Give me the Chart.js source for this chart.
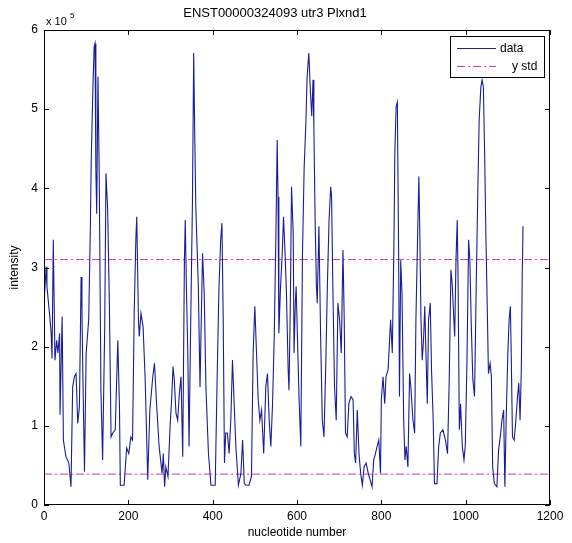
<!DOCTYPE html>
<html>
<head>
<meta charset="utf-8">
<script src="https://cdn.jsdelivr.net/npm/chart.js@4/dist/chart.umd.min.js"></script>
<style>html,body{margin:0;padding:0;background:#fff}</style>
</head>
<body>
<canvas id="chart" width="572" height="543"></canvas>
<script>
'use strict'

// ------------- data ------------- //
var nucleotide = [0,1,5,7,13,17,19,22,26,30,33,37,38,43,46,52,59,64,68,72,76,80,84,88,90,92,96,100,106,110,112,116,119,121,123,125,128,131,135,139,144,147,151,155,159,163,169,175,179,181,190,196,201,206,210,214,218,220,224,226,230,235,240,246,251,258,262,267,273,280,283,286,289,294,299,303,306,309,313,317,321,325,329,333,335,338,341,344,348,352,355,357,360,366,370,376,380,384,390,396,406,411,415,419,422,425,428,431,435,439,443,447,451,455,461,467,471,475,479,486,492,496,500,504,508,512,516,521,526,530,534,538,542,546,550,553,555,557,561,565,568,572,575,579,581,584,587,591,593,596,598,602,605,609,613,617,621,624,628,632,635,638,640,643,646,648,652,656,660,664,668,672,676,680,682,685,689,693,697,701,705,709,712,715,719,723,728,733,736,739,743,747,751,755,759,764,769,778,782,786,790,794,798,800,804,808,811,816,822,826,830,832,835,838,841,843,846,849,853,856,859,863,867,870,875,879,882,886,889,891,894,897,900,903,906,909,912,916,919,923,926,932,936,940,946,952,957,961,965,968,972,974,977,980,982,985,988,992,996,999,1003,1007,1010,1013,1017,1021,1025,1029,1032,1036,1039,1042,1045,1048,1051,1054,1058,1061,1064,1068,1074,1078,1082,1086,1090,1093,1096,1100,1103,1106,1108,1111,1115,1119,1123,1126,1129,1132,1134,1136];
// intensity in units of 10^5
var intensity = [1.49,2.63,3.01,2.76,2.42,2.17,1.85,3.35,1.83,2.08,1.92,2.17,1.14,2.38,0.82,0.61,0.53,0.23,1.49,1.62,1.66,1.03,1.24,2.88,2.46,1.71,0.42,1.92,2.34,3.52,4.36,5.28,5.79,5.83,4.23,3.68,5.41,4.15,1.45,0.57,2.25,4.19,3.73,2.55,0.86,0.91,0.95,2.08,1.24,0.25,0.25,0.72,0.65,0.86,0.82,2.46,3.39,3.64,2.34,2.13,2.42,2.25,1.58,0.32,1.2,1.62,1.79,1.28,0.74,0.4,0.65,0.23,0.48,0.36,0.99,1.37,1.75,1.58,1.16,1.07,1.41,1.62,0.61,3.09,3.6,2.67,1.92,0.74,2.34,3.81,5.71,4.86,3.77,2.76,1.49,3.18,2.67,1.49,0.65,0.25,0.25,1.71,2.76,3.35,3.56,2.34,0.53,0.91,0.91,0.65,1.07,1.83,1.28,0.74,0.25,0.4,0.82,0.27,0.25,0.25,0.36,1.92,2.51,1.92,1.33,1.07,1.2,0.65,1.49,1.66,1.07,0.74,1.28,2.13,3.43,4.61,3.89,2.17,2.76,3.18,3.64,3.14,2.67,1.71,1.45,2.46,4.02,3.43,1.92,2.55,2.76,1.92,1.33,0.74,3.18,4.27,4.82,5.41,5.71,5.2,4.91,5.37,4.78,3.6,2.76,2.55,3.52,2.13,1.07,0.86,1.71,2.76,3.6,4.02,3.89,2.76,1.49,1.07,2.55,2.34,1.92,3.22,2.34,0.91,0.86,1.28,1.37,1.33,0.65,0.53,1.2,0.65,0.4,0.25,0.48,0.53,0.4,0.23,0.57,0.65,0.74,0.82,0.4,1.33,1.62,1.28,1.62,1.71,2.34,1.92,3.35,4.44,5.03,5.09,3.18,1.37,3.09,2.67,1.07,0.57,0.74,0.48,1.66,1.49,1.07,0.91,2.34,3.39,4.15,3.52,2.34,1.83,2.08,2.51,1.87,1.28,2.34,2.55,1.71,1.07,0.27,0.27,0.74,0.91,0.95,0.82,0.65,1.58,2.97,2.8,2.34,2.13,3.09,3.6,2.84,0.95,1.28,0.74,0.57,0.74,1.79,3.35,3.09,2.34,1.58,1.37,2.76,4.02,4.86,5.28,5.37,5.28,4.44,3.39,2.55,1.66,1.79,1.62,0.48,0.27,0.23,0.69,0.86,1.07,1.2,0.23,1.07,1.92,2.34,2.51,1.92,0.86,0.82,1.07,1.37,1.54,1.07,1.71,2.84,3.52];
var stdLevels = [3.1, 0.39];
var xRange = [0, 1200];
var yRange = [0, 6];

var FONT = "'Liberation Sans', Arial, Helvetica, sans-serif";
var STD_COLOR = '#c23cc2';
var ctx;
var myLineChart;

function buildPoints(){
  var pts = [];
  for (let i = 0; i < nucleotide.length; i++)
    pts.push({x: nucleotide[i], y: intensity[i]});
  return pts;
}

// both std levels in one dataset, split by a gap
function stdPoints(){
  var pts = [];
  stdLevels.forEach(function(level, k){
    if (k > 0) pts.push({x: xRange[1], y: null});
    pts.push({x: xRange[0], y: level});
    pts.push({x: xRange[1], y: level});
  });
  return pts;
}

// MATLAB style box, inward ticks, exponent label and legend
var matlabAxes = {
  id: 'matlabAxes',
  afterDatasetsDraw: function(chart){
    var c = chart.ctx, a = chart.chartArea;
    var sx = chart.scales.x, sy = chart.scales.y;
    c.save();
    c.strokeStyle = '#000';
    c.lineWidth = 1;
    c.strokeRect(Math.round(a.left)+0.5, Math.round(a.top)+0.5,
                 Math.round(a.right-a.left)-1, Math.round(a.bottom-a.top)-1);
    c.beginPath();
    sx.ticks.forEach(function(t){
      var p = Math.round(sx.getPixelForValue(t.value))+0.5;
      c.moveTo(p, a.bottom); c.lineTo(p, a.bottom-5);
      c.moveTo(p, a.top); c.lineTo(p, a.top+5);
    });
    sy.ticks.forEach(function(t){
      var p = Math.round(sy.getPixelForValue(t.value))+0.5;
      c.moveTo(a.left, p); c.lineTo(a.left+5, p);
      c.moveTo(a.right, p); c.lineTo(a.right-5, p);
    });
    c.stroke();

    // exponent
    c.fillStyle = '#000';
    c.font = '11px ' + FONT;
    c.textBaseline = 'alphabetic';
    c.textAlign = 'left';
    c.fillText('x 10', a.left+2, a.top-5);
    c.font = '8px ' + FONT;
    c.fillText('5', a.left+26, a.top-12);

    // legend
    var lx = a.right-100, ly = a.top+6, lw = 94, lh = 41;
    c.fillStyle = '#fff';
    c.fillRect(lx, ly, lw, lh);
    c.strokeStyle = '#000';
    c.strokeRect(lx+0.5, ly+0.5, lw, lh);
    var ds = chart.data.datasets;
    var textX = [lx+50, lx+62];
    ds.forEach(function(d, k){
      var y = ly + 12.5 + k*18;
      c.beginPath();
      c.strokeStyle = d.borderColor;
      c.lineWidth = 1;
      c.setLineDash(d.borderDash || []);
      c.moveTo(lx+7, y); c.lineTo(lx+46, y);
      c.stroke();
      c.setLineDash([]);
      c.fillStyle = '#000';
      c.font = '12px ' + FONT;
      c.textBaseline = 'middle';
      c.fillText(d.label, textX[k], y);
    });
    c.restore();
  }
};

function initChart(){
  ctx = document.getElementById('chart').getContext('2d');
  myLineChart = new Chart(ctx, {
    type: 'line',
    data: {
      datasets: [{
        label: 'data',
        data: buildPoints(),
        borderColor: '#1c1c96',
        borderWidth: 1.1,
        pointRadius: 0,
        tension: 0,
        fill: false,
        order: 0
      }, {
        label: 'y std',
        data: stdPoints(),
        borderColor: STD_COLOR,
        borderWidth: 1,
        borderDash: [8, 3, 2, 3],
        pointRadius: 0,
        spanGaps: false,
        fill: false,
        order: 1
      }]
    },
    options: {
      responsive: false,
      animation: false,
      devicePixelRatio: 1,
      layout: {padding: {left: 0, right: 22, top: 0, bottom: 0}},
      plugins: {
        legend: {display: false},
        tooltip: {enabled: false},
        title: {
          display: true,
          text: 'ENST00000324093 utr3 Plxnd1',
          color: '#000',
          font: {family: FONT, size: 13, weight: 'normal'},
          padding: {top: 6, bottom: 8.4}
        }
      },
      scales: {
        x: {
          type: 'linear',
          min: xRange[0],
          max: xRange[1],
          grid: {display: false, drawTicks: false},
          border: {display: false},
          ticks: {stepSize: 200, color: '#000', padding: 4, maxRotation: 0,
                  font: {family: FONT, size: 12},
                  callback: function(v){ return String(v); }},
          title: {display: true, text: 'nucleotide number', color: '#000',
                  font: {family: FONT, size: 12}, padding: {top: 0, bottom: 3}},
          afterFit: function(s){ s.height = 38; }
        },
        y: {
          type: 'linear',
          min: yRange[0],
          max: yRange[1],
          grid: {display: false, drawTicks: false},
          border: {display: false},
          ticks: {stepSize: 1, color: '#000', padding: 6,
                  font: {family: FONT, size: 12}},
          title: {display: true, text: 'intensity', color: '#000',
                  font: {family: FONT, size: 12}, padding: {top: 7, bottom: 4}},
          afterFit: function(s){ s.width = 44; }
        }
      }
    },
    plugins: [matlabAxes]
  });
}

initChart();
</script>
</body>
</html>
